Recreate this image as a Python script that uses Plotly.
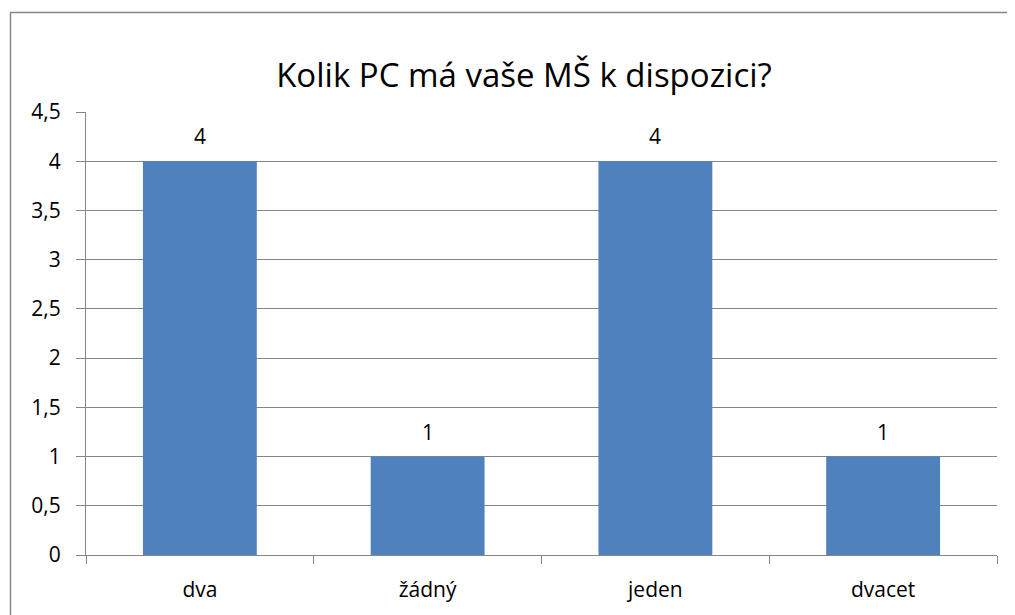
import plotly.graph_objects as go

categories = ["dva", "žádný", "jeden", "dvacet"]
values = [4, 1, 4, 1]
title_text = "Kolik PC má vaše MŠ k dispozici?"

# the page body adds an 8px offset; the figure is sized to fit the window
OFF = 8
W, H = 1015 - OFF, 615 - OFF
L = 86 - OFF
T = 112 - OFF
R = W - (997 - OFF)
B = H - (555 - OFF)
pw, ph = W - L - R, H - T - B

grid = "#868686"
bar_color = "#4F81BD"
font_family = "Open Sans, Noto Sans, sans-serif"
fs = 21

fig = go.Figure()
fig.add_trace(go.Bar(
    x=categories, y=values,
    marker=dict(color=bar_color, line=dict(width=0)),
    width=0.5,
    hoverinfo="x+y",
))

for c, v in zip(categories, values):
    fig.add_annotation(x=c, y=v, text=str(v), showarrow=False,
                       yanchor="bottom", yshift=9,
                       font=dict(size=fs, color="black", family=font_family))

def px_to_paper_x(p):
    return (p - OFF - L) / pw

def px_to_paper_y(p):
    return (H - B - (p - OFF)) / ph

fig.add_shape(type="rect", xref="paper", yref="paper",
              x0=px_to_paper_x(10.5), x1=px_to_paper_x(1040),
              y0=px_to_paper_y(660), y1=px_to_paper_y(12.5),
              line=dict(color=grid, width=1.5), fillcolor="rgba(0,0,0,0)",
              layer="below")

fig.update_layout(
    width=W, height=H,
    margin=dict(l=L, r=R, t=T, b=B, autoexpand=False),
    paper_bgcolor="white", plot_bgcolor="white",
    separators=",.",
    showlegend=False,
    font=dict(family=font_family, color="black", size=fs),
    title=dict(text=title_text, x=(524 - OFF) / W, xanchor="center", xref="container",
               y=1 - (75 - OFF) / H, yanchor="middle", yref="container",
               font=dict(size=33, color="black", family=font_family)),
    bargap=0.5,
)
fig.update_xaxes(
    showline=True, linecolor=grid, linewidth=1,
    ticks="outside", tickson="boundaries", ticklen=8, tickcolor=grid,
    showgrid=False, tickfont=dict(size=fs, color="black"),
    ticklabelstandoff=16,
)
fig.update_yaxes(
    range=[0, 4.5], dtick=0.5, tick0=0,
    showline=True, linecolor=grid, linewidth=1,
    showgrid=True, gridcolor=grid, gridwidth=1,
    ticks="outside", ticklen=9, tickcolor=grid,
    zeroline=False, tickfont=dict(size=fs, color="black"),
    ticklabelstandoff=11,
)

fig.write_html("out.html")
